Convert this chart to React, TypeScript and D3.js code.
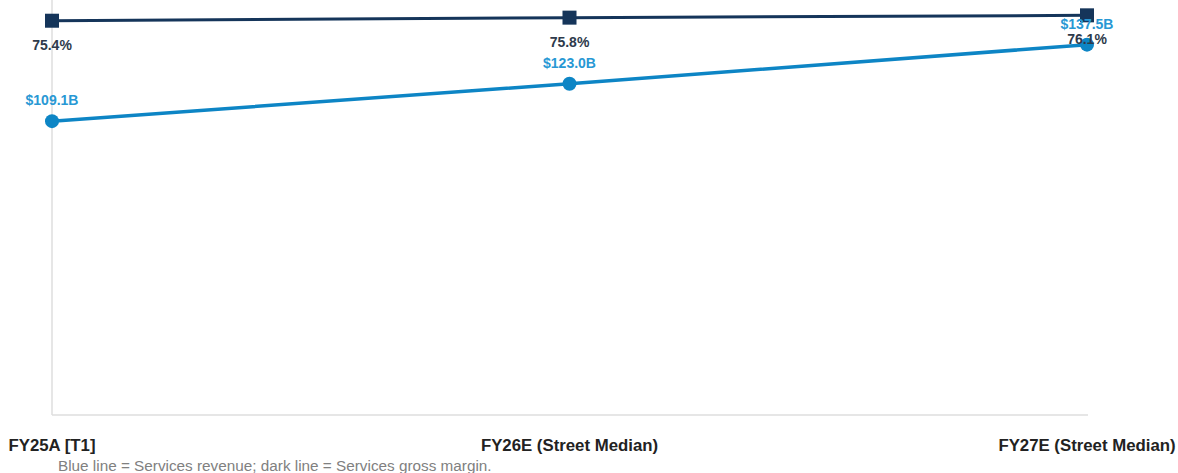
import React from "react";
import * as d3 from "d3";

const categories = ["FY25A [T1]", "FY26E (Street Median)", "FY27E (Street Median)"];
const revenue = [109.1, 123.0, 137.5];
const margin = [75.4, 75.8, 76.1];
const revenueLabels = ["$109.1B", "$123.0B", "$137.5B"];
const marginLabels = ["75.4%", "75.8%", "76.1%"];
const caption = "Blue line = Services revenue; dark line = Services gross margin.";

const W = 1178;
const H = 473;
const left = 52;
const right = 1087;
const bottom = 415;

export default function App() {
  const x = d3.scalePoint<string>().domain(categories).range([left, right]);
  const yRev = d3.scaleLinear().domain([0, 150]).range([bottom, 11]);
  const yPct = d3.scaleLinear().domain([74, 78]).range([31.5, 0.7]);

  const revLine = d3
    .line<number>()
    .x((_, i) => x(categories[i]) as number)
    .y((d) => yRev(d));
  const pctLine = d3
    .line<number>()
    .x((_, i) => x(categories[i]) as number)
    .y((d) => yPct(d));

  const dark = "#15355a";
  const blue = "#0d85c5";
  const font = "'Liberation Sans', Arial, Helvetica, sans-serif";

  return (
    <div style={{ position: "absolute", left: 0, top: 0 }}>
      <svg width={W} height={H} style={{ display: "block", background: "#fff" }}>
        <line x1={left} x2={left} y1={0} y2={bottom} stroke="#dedede" strokeWidth={1.5} />
        <line x1={left} x2={right + 1} y1={bottom} y2={bottom} stroke="#dedede" strokeWidth={1.5} />

        <path d={pctLine(margin) || ""} fill="none" stroke={dark} strokeWidth={3} />
        {margin.map((d, i) => (
          <rect
            key={"s" + i}
            x={(x(categories[i]) as number) - 7}
            y={yPct(d) - 7}
            width={14}
            height={14}
            fill={dark}
          />
        ))}

        <path d={revLine(revenue) || ""} fill="none" stroke={blue} strokeWidth={3.5} />
        {revenue.map((d, i) => (
          <circle key={"c" + i} cx={x(categories[i]) as number} cy={yRev(d)} r={7} fill={blue} />
        ))}

        {revenue.map((d, i) => (
          <text
            key={"rl" + i}
            x={x(categories[i]) as number}
            y={yRev(d) - 16}
            textAnchor="middle"
            fontFamily={font}
            fontWeight="bold"
            fontSize={14}
            fill="#2898d4"
          >
            {revenueLabels[i]}
          </text>
        ))}
        {margin.map((d, i) => (
          <text
            key={"ml" + i}
            x={x(categories[i]) as number}
            y={yPct(d) + 29}
            textAnchor="middle"
            fontFamily={font}
            fontWeight="bold"
            fontSize={14}
            fill="#2e3a4b"
          >
            {marginLabels[i]}
          </text>
        ))}

        {categories.map((c) => (
          <text
            key={c}
            x={x(c) as number}
            y={451}
            textAnchor="middle"
            fontFamily={font}
            fontWeight="bold"
            fontSize={16.8}
            fill="#222"
          >
            {c}
          </text>
        ))}

        <text x={58} y={471} fontFamily={font} fontSize={15.3} fill="#808080">
          {caption}
        </text>
      </svg>
    </div>
  );
}
